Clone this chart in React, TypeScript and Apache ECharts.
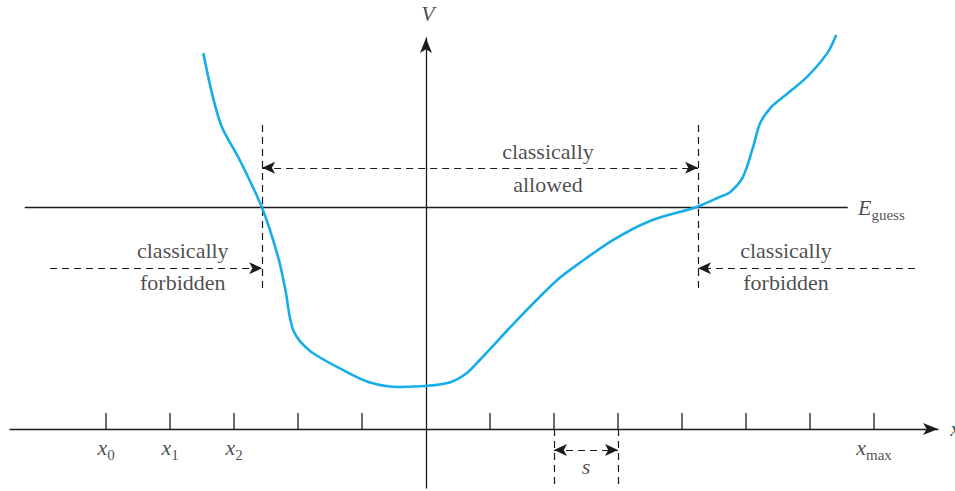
import React, { useEffect, useRef } from "react";
import * as echarts from "echarts";

// Potential curve V(x), x in units of the step s
const curveX = [-3.48, -3.33, -3.19, -2.91, -2.56, -2.31, -2.2, -2.13, -2.07, -1.97, -1.77, -1.3, -0.89, -0.41, 0.02, 0.38, 0.64, 0.84, 1.47, 2.05, 2.36, 2.92, 3.5, 4.23, 4.59, 4.75, 4.95, 5.11, 5.22, 5.38, 5.58, 5.95, 6.27, 6.41];
const curveV = [10.19, 9.0, 8.19, 7.29, 5.99, 4.66, 3.8, 3.05, 2.66, 2.38, 2.06, 1.6, 1.27, 1.14, 1.17, 1.27, 1.52, 1.87, 3.04, 4.04, 4.45, 5.12, 5.64, 6.02, 6.29, 6.42, 6.83, 7.64, 8.29, 8.7, 9.0, 9.54, 10.19, 10.68];

// Grid points (ticks) on the x axis
const tickX = [-5, -4, -3, -2, -1, 1, 2, 3, 4, 5, 6, 7];
const tickLabelX = [-5, -4, -3, 7];
const tickLabelSub = ["0", "1", "2", "max"];

const E_GUESS = 6.0;
const TURN_LEFT = -2.56;
const TURN_RIGHT = 4.25;
const S_START = 2;
const S_END = 3;

const INK = "#1e1b1c";
const BLUE = "#17ade8";
const SERIF = "'Liberation Serif', 'DejaVu Serif', serif";

const rich = {
  t: { fontFamily: SERIF, fontSize: 22, color: INK },
  i: { fontFamily: SERIF, fontStyle: "italic", fontSize: 22, color: INK, verticalAlign: "bottom", padding: [0, 0, 4, 0] },
  sub: { fontFamily: SERIF, fontSize: 15, color: INK, verticalAlign: "bottom" },
};

function buildOption() {
  const dash = { color: INK, width: 1.2, type: [7, 5] as any };
  const solid = { color: INK, width: 1.3, type: "solid" as any };
  const seg = (a: number[], b: number[], sa: string, sb: string, ls: any) => [
    { coord: a, symbol: sa, lineStyle: ls },
    { coord: b, symbol: sb, lineStyle: ls },
  ];

  const texts: any[] = [];
  const addText = (x: number, v: number, fmt: string, align = "center") =>
    texts.push({ value: [x, v], label: { formatter: fmt, align } });

  addText(1.906, 7.51, "{t|classically}");
  addText(1.906, 6.64, "{t|allowed}");
  addText(-3.8, 4.83, "{t|classically}");
  addText(-3.8, 3.96, "{t|forbidden}");
  addText(5.625, 4.83, "{t|classically}");
  addText(5.625, 3.96, "{t|forbidden}");
  addText(0.03, 11.22, "{i|V}");
  addText(6.75, 5.94, "{i|E}{sub|guess}", "left");
  addText(8.19, -0.05, "{i|x}", "left");
  addText((S_START + S_END) / 2, -1.06, "{i|s}");
  tickLabelX.forEach((x, k) => addText(x, -0.55, `{i|x}{sub|${tickLabelSub[k]}}`));

  return {
    animation: false,
    grid: { left: 10, right: 17, top: 38, bottom: 3 },
    xAxis: {
      type: "value",
      min: -6.5,
      max: 8,
      axisLine: { onZero: true, symbol: ["none", "arrow"], symbolSize: [9, 15], lineStyle: { color: INK, width: 1.3 } },
      axisTick: { show: false },
      axisLabel: { show: false },
      splitLine: { show: false },
    },
    yAxis: {
      type: "value",
      min: -1.6,
      max: 10.6,
      axisLine: { onZero: true, symbol: ["none", "arrow"], symbolSize: [9, 15], lineStyle: { color: INK, width: 1.3 } },
      axisTick: { show: false },
      axisLabel: { show: false },
      splitLine: { show: false },
    },
    series: [
      {
        type: "line",
        name: "V(x)",
        data: curveX.map((x, k) => [x, curveV[k]]),
        smooth: 0.3,
        symbol: "none",
        clip: false,
        z: 5,
        lineStyle: { color: BLUE, width: 2.6 },
        markLine: {
          silent: true,
          symbolSize: [9, 13],
          label: { show: false },
          emphasis: { disabled: true },
          data: [
            seg([-6.27, E_GUESS], [6.59, E_GUESS], "none", "none", solid),
            seg([TURN_LEFT, 8.24], [TURN_LEFT, 3.77], "none", "none", dash),
            seg([TURN_RIGHT, 8.24], [TURN_RIGHT, 3.77], "none", "none", dash),
            seg([TURN_LEFT, 7.08], [TURN_RIGHT, 7.08], "arrow", "arrow", dash),
            seg([-5.875, 4.36], [TURN_LEFT, 4.36], "none", "arrow", dash),
            seg([7.64, 4.36], [TURN_RIGHT, 4.36], "none", "arrow", dash),
            seg([S_START, 0], [S_START, -1.6], "none", "none", dash),
            seg([S_END, 0], [S_END, -1.6], "none", "none", dash),
            seg([S_START, -0.57], [S_END, -0.57], "arrow", "arrow", dash),
          ],
        },
      },
      {
        type: "custom",
        name: "ticks",
        data: tickX.map((x) => [x, 0]),
        silent: true,
        renderItem: (params: any, api: any) => {
          const p = api.coord([api.value(0), 0]);
          return {
            type: "line",
            shape: { x1: p[0], y1: p[1], x2: p[0], y2: p[1] - 16 },
            style: { stroke: INK, lineWidth: 1.3 },
          };
        },
      },
      {
        type: "scatter",
        name: "labels",
        data: texts,
        symbolSize: 0,
        silent: true,
        clip: false,
        label: { show: true, position: "inside", color: INK, rich },
      },
    ],
  };
}

export default function App() {
  const ref = useRef<HTMLDivElement>(null);
  useEffect(() => {
    const chart = echarts.init(ref.current!, null, { renderer: "svg" });
    chart.setOption(buildOption() as any);
    return () => chart.dispose();
  }, []);
  return (
    <div
      ref={ref}
      style={{ position: "fixed", left: 0, top: 0, width: 955, height: 491, background: "#fff" }}
    />
  );
}
